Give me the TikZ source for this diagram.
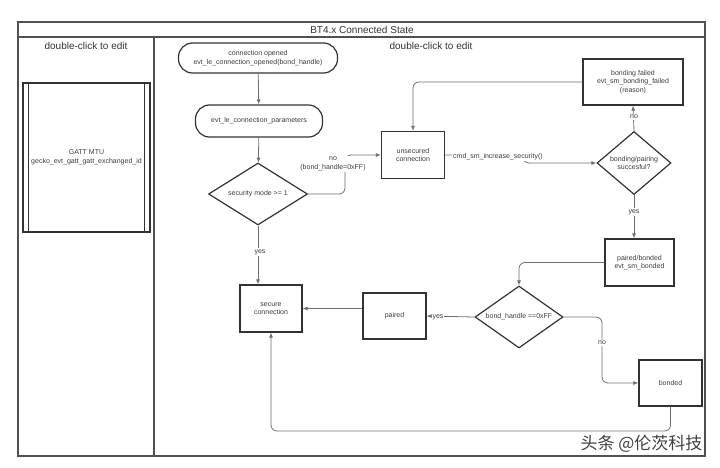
\documentclass[tikz,border=0pt]{standalone}
\usepackage{fontspec}
\setmainfont{Liberation Sans}
\newfontfamily\cjkfont{Noto Sans CJK SC}
\usetikzlibrary{arrows.meta,shapes.geometric}
\definecolor{framegray}{RGB}{80,80,80}
\definecolor{linegray}{RGB}{110,110,110}
\definecolor{boxedge}{RGB}{50,50,50}
\definecolor{textgray}{RGB}{60,60,60}

\begin{document}
\begin{tikzpicture}[x=1pt,y=-1pt,
  box/.style={draw=boxedge, line width=1.2pt, inner sep=0pt, align=center,
    font=\fontsize{7}{8.5}\selectfont, text=textgray},
  term/.style={box, rounded corners=14pt},
  decision/.style={box, diamond, aspect=1.6},
  flow/.style={draw=linegray, line width=0.8pt, rounded corners=6pt,
    -{Latex[length=5pt,width=4pt]}},
  lbl/.style={fill=white, inner sep=1pt, align=center,
    font=\fontsize{7}{8.5}\selectfont, text=textgray},
  lane/.style={font=\fontsize{10}{12}\selectfont, text=black!80}]
\useasboundingbox (0,0) rectangle (720,468);

% Frame and lanes
\draw[framegray, line width=1.5pt] (18,22) rectangle (705,456);
\draw[framegray, line width=1.5pt] (18,37) -- (705,37);
\draw[framegray, line width=1.5pt] (154,37) -- (154,456);
\node[lane] (title) at (362,29.5) {BT4.x Connected State};
\node[lane] (lefthead) at (86,46) {double-click to edit};
\node[lane] (righthead) at (431,46) {double-click to edit};

% Left lane
\node[box, minimum width=127, minimum height=149] (gatt) at (86.5,157.5)
  {GATT MTU\\gecko\_evt\_gatt\_gatt\_exchanged\_id};
\draw[boxedge, line width=1.2pt] ([xshift=6pt]gatt.north west) -- ([xshift=6pt]gatt.south west);
\draw[boxedge, line width=1.2pt] ([xshift=-6pt]gatt.north east) -- ([xshift=-6pt]gatt.south east);

% Connection events
\node[term, minimum width=159, minimum height=30] (conn) at (258,58)
  {connection opened\\evt\_le\_connection\_opened(bond\_handle)};
\node[term, minimum width=127, minimum height=32] (params) at (259,121)
  {evt\_le\_connection\_parameters};

% Decisions
\node[decision, minimum width=99, minimum height=62] (secmode) at (258,194)
  {security mode >= 1};
\node[decision, minimum width=74, minimum height=63] (bondok) at (634,163)
  {bonding/pairing\\succesful?};
\node[decision, minimum width=88, minimum height=62] (handle) at (519,317)
  {bond\_handle ==0xFF};

% States
\node[box, minimum width=63, minimum height=47] (unsec) at (413,155)
  {unsecured\\connection};
\node[box, minimum width=100, minimum height=46] (failed) at (633,82)
  {bonding failed\\evt\_sm\_bonding\_failed\\(reason)};
\node[box, minimum width=69, minimum height=47] (pairbond) at (639.5,262.5)
  {paired/bonded\\evt\_sm\_bonded};
\node[box, minimum width=63, minimum height=46] (paired) at (394.5,316)
  {paired};
\node[box, minimum width=62, minimum height=47] (secure) at (271,308.5)
  {secure\\connection};
\node[box, minimum width=63, minimum height=46] (bonded) at (670.5,383)
  {bonded};

% Bends
\coordinate (nobend) at (345,155);
\coordinate (cmdbend) at (523,155);
\coordinate (bondbend) at (602,383);
\coordinate (retcorner) at (670.5,431);

% Connectors
\draw[flow] (conn) -- (params);
\draw[flow] (params) -- (secmode);
\draw[flow] (secmode.east) -| (nobend) -- (unsec.west);
\node[lbl] (nolbl) at (333,164) {no\\(bond\_handle=0xFF)};
\draw[flow] (unsec.east) -- (cmdbend) |- (bondok.west);
\node[lbl, anchor=west] (cmdlbl) at (452,157) {cmd\_sm\_increase\_security()};
\draw[flow] (bondok.north) -- (failed.south);
\node[lbl] (faillbl) at (634,117) {no};
\draw[flow] (failed.west) -| (unsec.north);
\draw[flow] (bondok.south) -- (bondok.south |- pairbond.north);
\node[lbl] (oklbl) at (634,212) {yes};
\draw[flow] (pairbond.west) -| (handle.north);
\draw[flow] (handle.west) -- (paired.east);
\node[lbl] (pairlbl) at (438,317) {yes};
\draw[flow] (paired.west |- secure.east) -- (secure.east);
\draw[flow] (secmode.south) -- (secmode.south |- secure.north);
\node[lbl] (seclbl) at (260,252) {yes};
\draw[flow] (handle.east) -| (bondbend) -- (bonded.west);
\node[lbl] (bondlbl) at (602,343) {no};
\draw[flow] (bonded.south) -- (retcorner) -| (secure.south);

% Watermark
\node[anchor=east, font=\cjkfont\fontsize{17}{17}\selectfont, text=black!75] (mark) at (706,444)
  {头条 @伦茨科技};
\end{tikzpicture}
\end{document}
